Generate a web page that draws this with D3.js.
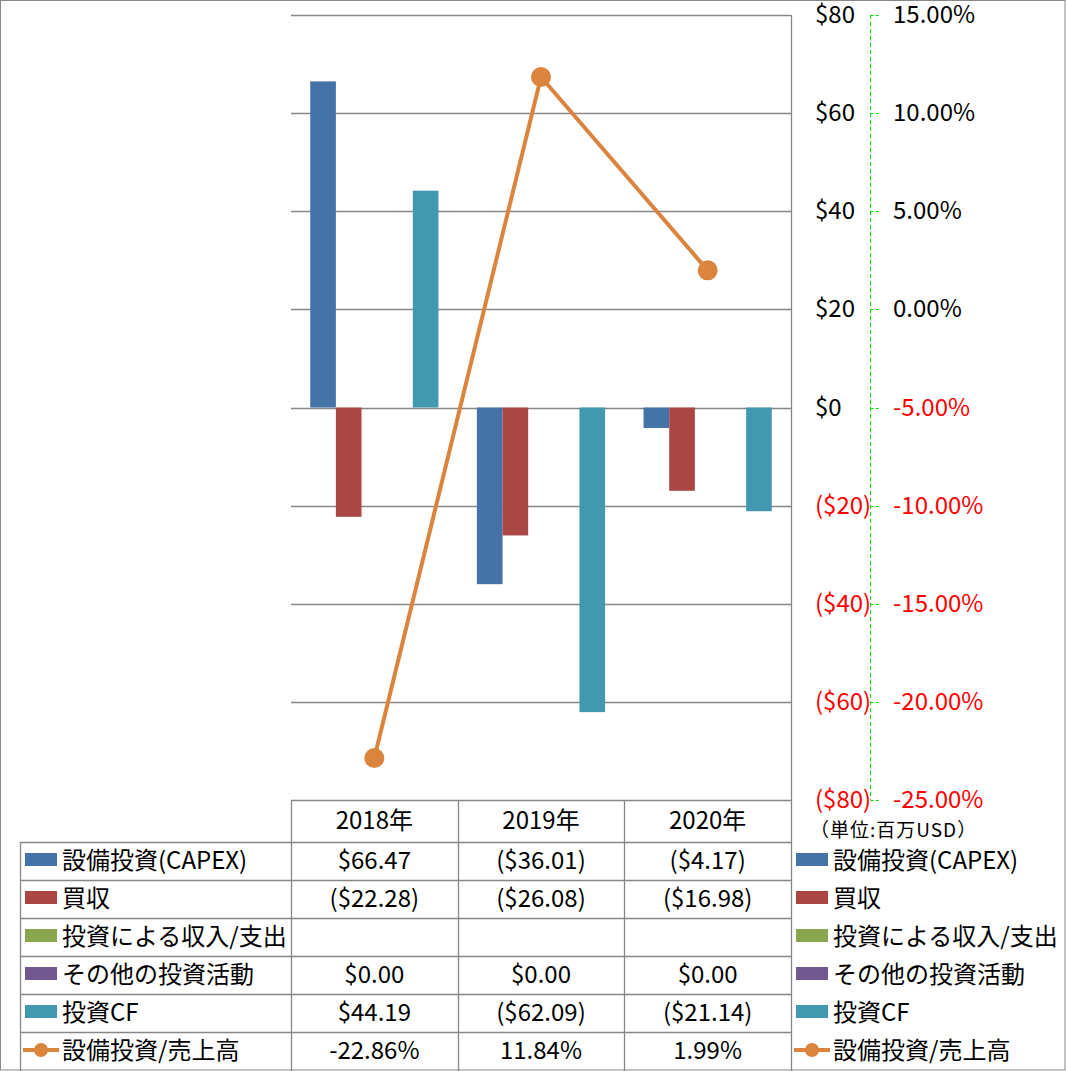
<!DOCTYPE html>
<html>
<head>
<meta charset="utf-8">
<script src="https://cdn.jsdelivr.net/npm/d3@7"></script>
<style>
  body { margin: 0; background: #fff; }
  text { font-family: "Noto Sans CJK JP", "Noto Sans", sans-serif; }
</style>
</head>
<body>
<svg id="chart" width="1066" height="1071"></svg>
<script>
// ---- data ----
const years = ["2018年", "2019年", "2020年"];
const barSeries = ["設備投資(CAPEX)", "買収", "投資による収入/支出", "その他の投資活動", "投資CF"];
const lineSeries = "設備投資/売上高";
const capex = [66.47, -36.01, -4.17];
const acquisition = [-22.28, -26.08, -16.98];
const investIncome = [null, null, null];
const otherInvest = [0, 0, 0];
const investCF = [44.19, -62.09, -21.14];
const capexRatio = [-22.86, 11.84, 1.99];
const yTicks = [80, 60, 40, 20, 0, -20, -40, -60, -80];
const y2Ticks = [15, 10, 5, 0, -5, -10, -15, -20, -25];
const unitLabel = "（単位:百万USD）";
const colors = ["#4572A7", "#AA4643", "#89A54E", "#71588F", "#4198AF"];
const lineColor = "#DB843D";

const barValues = [capex, acquisition, investIncome, otherInvest, investCF];

// ---- layout ----
const svg = d3.select("#chart");
const W = 1066, H = 1071;
const plotL = 291, plotR = 791, plotT = 15, plotB = 800;
const rowH = 38;
const tableTop = 842;
const legendL = 20;
const gridColor = "#878787";

svg.append("rect").attr("x", 0.5).attr("y", 0.5).attr("width", W - 1.5).attr("height", H - 1.5)
  .attr("fill", "#fff").attr("stroke", gridColor).attr("stroke-width", 1);

const x0 = d3.scaleBand().domain(years).range([plotL, plotR]).padding(0);
const x1 = d3.scaleBand().domain(barSeries).range([0, x0.bandwidth()]).paddingInner(0).paddingOuter(0.75);
const y = d3.scaleLinear().domain([-80, 80]).range([plotB, plotT]);
const y2 = d3.scaleLinear().domain([-25, 15]).range([plotB, plotT]);

// gridlines
svg.append("g").selectAll("line").data(yTicks).join("line")
  .attr("x1", plotL).attr("x2", plotR)
  .attr("y1", d => Math.round(y(d)) + 0.5).attr("y2", d => Math.round(y(d)) + 0.5)
  .attr("stroke", gridColor).attr("stroke-width", 1.3);

// bars
const barData = [];
barSeries.forEach((s, si) => {
  years.forEach((yr, yi) => {
    const v = barValues[si][yi];
    if (v !== null && v !== 0) barData.push({ s, si, yr, v });
  });
});
svg.append("g").selectAll("rect").data(barData).join("rect")
  .attr("x", d => x0(d.yr) + x1(d.s))
  .attr("width", x1.bandwidth())
  .attr("y", d => y(Math.max(0, d.v)))
  .attr("height", d => Math.abs(y(d.v) - y(0)))
  .attr("fill", d => colors[d.si]);

// line series
const cx = yr => x0(yr) + x0.bandwidth() / 2;
const lineGen = d3.line().x((d, i) => cx(years[i])).y(d => y2(d));
svg.append("path").datum(capexRatio).attr("d", lineGen)
  .attr("fill", "none").attr("stroke", lineColor).attr("stroke-width", 4).attr("stroke-linejoin", "round");
svg.append("g").selectAll("circle").data(capexRatio).join("circle")
  .attr("cx", (d, i) => cx(years[i])).attr("cy", d => y2(d)).attr("r", 10)
  .attr("fill", lineColor);

// right border of plot / table
svg.append("line").attr("x1", plotR + 0.5).attr("x2", plotR + 0.5).attr("y1", plotT).attr("y2", H)
  .attr("stroke", gridColor).attr("stroke-width", 1.3);

// primary axis labels (right side)
const fmtDollar = v => v < 0 ? `($${Math.abs(v)})` : `$${v}`;
svg.append("g").selectAll("text").data(yTicks).join("text")
  .attr("x", 815).attr("y", d => y(d) + 8)
  .attr("font-size", 24)
  .attr("fill", d => d < 0 ? "#FF0000" : "#000")
  .text(fmtDollar);

// secondary axis (green dashed)
const ax2x = 870.5;
svg.append("line").attr("x1", ax2x).attr("x2", ax2x).attr("y1", y2(15)).attr("y2", y2(-25))
  .attr("stroke", "#00E000").attr("stroke-width", 1).attr("stroke-dasharray", "4,3");
svg.append("g").selectAll("line").data(y2Ticks).join("line")
  .attr("x1", ax2x).attr("x2", ax2x + 10)
  .attr("y1", d => Math.round(y2(d)) + 0.5).attr("y2", d => Math.round(y2(d)) + 0.5)
  .attr("stroke", "#00E000").attr("stroke-width", 1).attr("stroke-dasharray", "3,2");
svg.append("g").selectAll("text").data(y2Ticks).join("text")
  .attr("x", 893).attr("y", d => y2(d) + 8)
  .attr("font-size", 24)
  .attr("fill", d => d < 0 ? "#FF0000" : "#000")
  .text(d => d.toFixed(2) + "%");

// unit label
svg.append("text").attr("x", 810).attr("y", 837).attr("font-size", 19)
  .attr("letter-spacing", 1).attr("fill", "#000").text(unitLabel);

// ---- data table ----
const tbl = svg.append("g");
const lineAttr = (sel) => sel.attr("stroke", gridColor).attr("stroke-width", 1.3);
// header row vertical lines
[plotL, x0("2019年"), x0("2020年")].forEach(xx => {
  tbl.append("line").attr("x1", Math.round(xx) + 0.5).attr("x2", Math.round(xx) + 0.5)
    .attr("y1", plotB).attr("y2", H).call(lineAttr);
});
// left border of legend column
tbl.append("line").attr("x1", legendL + 0.5).attr("x2", legendL + 0.5).attr("y1", tableTop).attr("y2", H).call(lineAttr);
// horizontal lines
const nRows = 6;
for (let r = 0; r < nRows; r++) {
  const yy = tableTop + r * rowH;
  tbl.append("line").attr("x1", legendL).attr("x2", plotR).attr("y1", yy + 0.5).attr("y2", yy + 0.5).call(lineAttr);
}
// header labels
tbl.selectAll("text.hdr").data(years).join("text").attr("class", "hdr")
  .attr("x", d => cx(d)).attr("y", plotB + 21 + 8).attr("text-anchor", "middle")
  .attr("font-size", 24).text(d => d);

const fmtCell = v => v === null ? "" : (v < 0 ? `($${Math.abs(v).toFixed(2)})` : `$${v.toFixed(2)}`);
const rows = barSeries.map((s, si) => ({ name: s, type: "bar", color: colors[si], vals: barValues[si].map(fmtCell) }));
rows.push({ name: lineSeries, type: "line", color: lineColor, vals: capexRatio.map(v => v.toFixed(2) + "%") });

rows.forEach((row, ri) => {
  const cy = tableTop + ri * rowH + rowH / 2;
  // value cells
  row.vals.forEach((v, i) => {
    tbl.append("text").attr("x", cx(years[i])).attr("y", cy + 8).attr("text-anchor", "middle")
      .attr("font-size", 24).text(v);
  });
  // legend keys left and right
  [[25, 62], [796, 833]].forEach(([kx, tx]) => {
    if (row.type === "bar") {
      tbl.append("rect").attr("x", kx).attr("y", cy - 8).attr("width", 32).attr("height", 13).attr("fill", row.color);
    } else {
      tbl.append("line").attr("x1", kx - 2).attr("x2", kx + 34).attr("y1", cy - 1).attr("y2", cy - 1)
        .attr("stroke", row.color).attr("stroke-width", 4);
      tbl.append("circle").attr("cx", kx + 16).attr("cy", cy - 1).attr("r", 7).attr("fill", row.color);
    }
    tbl.append("text").attr("x", tx).attr("y", cy + 8).attr("font-size", 24).text(row.name);
  });
});
</script>
</body>
</html>
